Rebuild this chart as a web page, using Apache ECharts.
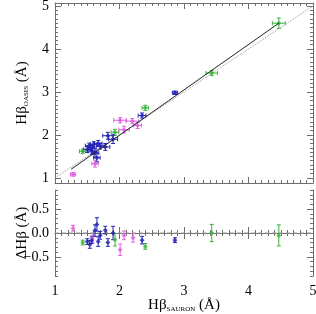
<!DOCTYPE html>
<html><head><meta charset="utf-8">
<script src="https://cdn.jsdelivr.net/npm/echarts@6/dist/echarts.min.js"></script>
<style>html,body{margin:0;padding:0;background:#fff}#c{width:316px;height:314px}</style>
</head><body><div id="c"></div>
<script>
// ---- data ----
// top panel: [x (SAURON), y (OASIS), xErr, yErr]
const topBlue = [
  [1.50,1.66,0.06,0.07],[1.53,1.75,0.06,0.06],[1.56,1.70,0.05,0.06],[1.58,1.62,0.07,0.08],
  [1.60,1.78,0.05,0.06],[1.62,1.58,0.06,0.10],[1.65,1.47,0.05,0.10],[1.67,1.80,0.06,0.07],
  [1.70,1.74,0.06,0.07],[1.78,1.72,0.07,0.08],[1.82,1.98,0.08,0.08],[1.90,1.90,0.07,0.10],
  [2.35,2.45,0.06,0.06],[2.86,2.98,0.04,0.04]
];
const topMagenta = [
  [1.28,1.08,0.04,0.04],[1.62,1.33,0.05,0.08],[2.01,2.34,0.10,0.06],
  [2.07,2.12,0.08,0.08],[2.20,2.32,0.10,0.06],[2.28,2.22,0.06,0.07]
];
const topGreen = [
  [1.43,1.62,0.05,0.05],[1.93,2.06,0.06,0.07],[2.40,2.63,0.05,0.06],
  [3.43,3.44,0.09,0.06],[4.47,4.60,0.10,0.12]
];
// bottom panel: [x, deltaHbeta, err]
const botBlue = [
  [1.50,-0.18,0.06],[1.54,-0.24,0.08],[1.57,-0.15,0.07],[1.62,0.05,0.12],[1.65,0.18,0.14],
  [1.67,-0.18,0.10],[1.70,-0.05,0.08],[1.78,0.06,0.08],[1.82,-0.20,0.08],[1.90,0.00,0.14],
  [2.35,-0.15,0.08],[2.86,-0.15,0.05]
];
const botMagenta = [[1.28,0.10,0.06],[1.58,-0.12,0.07],[2.01,-0.35,0.12],[2.07,-0.05,0.09],[2.21,-0.10,0.09]];
const botGreen = [[1.43,-0.20,0.05],[1.93,-0.14,0.13],[2.40,-0.28,0.06],[3.43,0.00,0.18],[4.47,-0.05,0.22]];
// lines
const fitLine = [[1.25,1.20],[4.47,4.60]];
const oneToOne = [[0.9,0.9],[5.1,5.1]];
const zeroLine = [[1,0],[5,0]];
// ticks
const xTicks = [1,2,3,4,5];
const topYTicks = [1,2,3,4,5];
const botYTicks = [-0.5,0.0,0.5];

const COL = {blue:'#2323b4', magenta:'#e060e0', green:'#3cb43c'};
const FONT = 'Liberation Serif';
const AX = '#6e6e6e';

function range(a,b,s){const r=[];for(let v=a;v<=b+1e-9;v+=s){r.push(+v.toFixed(3));}return r;}
const topYMinor = range(1.0,5.0,0.1);
const botYMinor = range(-0.9,0.9,0.1);

function xAxes(gridIndex, showLabels){
  const base = {type:'value', gridIndex, min:1, max:5, interval:1,
    axisLine:{show:true,lineStyle:{color:AX,width:1}},
    axisTick:{show:true,inside:true,length:6,lineStyle:{color:AX}},
    minorTick:{show:true,splitNumber:10,length:3,lineStyle:{color:AX}},
    splitLine:{show:false}, minorSplitLine:{show:false}};
  return [
    Object.assign({}, base, {position:'bottom', axisLabel:{show:showLabels, margin:8, color:'#000', fontFamily:FONT, fontSize:14,
      alignMinLabel:'center', alignMaxLabel:'center', hideOverlap:false, formatter: v => String(v)}}),
    Object.assign({}, base, {position:'top', axisLabel:{show:false}})
  ];
}
function yAxes(gridIndex, min, max, major, minor, fmt, name, gap){
  const mk = (pos, vals, len, label, line) => ({type:'value', gridIndex, min, max, position:pos,
    axisLine:{show:line,lineStyle:{color:AX,width:1}},
    axisTick:{show:true,inside:true,length:len,customValues:vals,lineStyle:{color:AX}},
    axisLabel: label ? {show:true,customValues:vals,margin:6,color:'#000',fontFamily:FONT,fontSize:14,
      verticalAlignMinLabel:'middle', verticalAlignMaxLabel:'middle', formatter:fmt} : {show:false},
    splitLine:{show:false}});
  const left = mk('left', major, 6, true, true);
  left.name = name; left.nameLocation='middle'; left.nameGap=gap; left.nameRotate=90; left.nameMoveOverlap=false;
  left.nameTextStyle = {color:'#000', fontFamily:FONT, fontSize:15,
    rich:{s:{fontSize:7, fontFamily:FONT, color:'#000', padding:[9,0,0,0]}, n:{fontSize:15,fontFamily:FONT,color:'#000'}}};
  return [left, mk('left', minor, 3, false, false), mk('right', major, 6, false, true), mk('right', minor, 3, false, false)];
}

function errTop(color){
  return function(params, api){
    const x=api.value(0), y=api.value(1), xe=api.value(2), ye=api.value(3);
    const l=api.coord([x-xe,y]), r=api.coord([x+xe,y]), t=api.coord([x,y+ye]), b=api.coord([x,y-ye]);
    const st={stroke:color,lineWidth:1}; const c=2;
    const ln=(x1,y1,x2,y2)=>({type:'line',shape:{x1,y1,x2,y2},style:st});
    return {type:'group',children:[
      ln(l[0],l[1],r[0],r[1]), ln(b[0],b[1],t[0],t[1]),
      ln(l[0],l[1]-c,l[0],l[1]+c), ln(r[0],r[1]-c,r[0],r[1]+c),
      ln(t[0]-c,t[1],t[0]+c,t[1]), ln(b[0]-c,b[1],b[0]+c,b[1])
    ]};
  };
}
function errBot(color){
  return function(params, api){
    const x=api.value(0), y=api.value(1), e=api.value(2);
    const t=api.coord([x,y+e]), b=api.coord([x,y-e]);
    const st={stroke:color,lineWidth:1}; const c=2;
    const ln=(x1,y1,x2,y2)=>({type:'line',shape:{x1,y1,x2,y2},style:st});
    return {type:'group',children:[ ln(b[0],b[1],t[0],t[1]), ln(t[0]-c,t[1],t[0]+c,t[1]), ln(b[0]-c,b[1],b[0]+c,b[1]) ]};
  };
}
function topSeries(data,color){
  return [
    {type:'custom', xAxisIndex:0, yAxisIndex:0, data, renderItem:errTop(color), z:3, silent:true},
    {type:'scatter', xAxisIndex:0, yAxisIndex:0, data:data.map(d=>[d[0],d[1]]), symbol:'diamond', symbolSize:5, itemStyle:{color}, z:4, silent:true}
  ];
}
function botSeries(data,color){
  return [
    {type:'custom', xAxisIndex:2, yAxisIndex:4, data, renderItem:errBot(color), z:3, silent:true},
    {type:'scatter', xAxisIndex:2, yAxisIndex:4, data:data.map(d=>[d[0],d[1]]), symbol:'diamond', symbolSize:5, itemStyle:{color}, z:4, silent:true}
  ];
}

const chart = echarts.init(document.getElementById('c'), null, {renderer:'canvas'});
const fmtTop = v => String(Math.round(v));
const fmtBot = v => (v<0?'\u2212':'') + Math.abs(v).toFixed(1);
chart.setOption({
  animation:false,
  backgroundColor:'#fff',
  grid:[
    {left:55, top:3, width:258, height:180, containLabel:false, outerBoundsMode:'none'},
    {left:55, top:190, width:258, height:86, containLabel:false, outerBoundsMode:'none'}
  ],
  xAxis:[...xAxes(0,false), ...xAxes(1,true).map((a,i)=> i===0 ? Object.assign(a,{
      name:'{n|H\u03b2}{s|SAURON}{n| (\u00c5)}', nameLocation:'middle', nameGap:21, nameMoveOverlap:false,
      nameTextStyle:{color:'#000',fontFamily:FONT,fontSize:15,
        rich:{s:{fontSize:7,fontFamily:FONT,color:'#000',padding:[9,0,0,0]}, n:{fontSize:15,fontFamily:FONT,color:'#000'}}}}) : a)],
  yAxis:[
    ...yAxes(0, 0.88, 5.07, topYTicks, topYMinor, fmtTop, '{n|H\u03b2}{s|OASIS}{n| (\u00c5)}', 25),
    ...yAxes(1, -0.9, 0.9, botYTicks, botYMinor, fmtBot, '{n|\u0394H\u03b2 (\u00c5)}', 25)
  ],
  series:[
    {type:'line', xAxisIndex:0, yAxisIndex:0, data:oneToOne, symbol:'none', lineStyle:{color:'#9a9a9a',width:1,type:'dotted'}, z:2, silent:true, clip:true},
    {type:'line', xAxisIndex:0, yAxisIndex:0, data:fitLine, symbol:'none', lineStyle:{color:'#222',width:1}, z:5, silent:true},
    {type:'line', xAxisIndex:2, yAxisIndex:4, data:zeroLine, symbol:'none', lineStyle:{color:'#9a9a9a',width:1,type:[4,3]}, z:2, silent:true},
    ...topSeries(topGreen,COL.green), ...topSeries(topMagenta,COL.magenta), ...topSeries(topBlue,COL.blue),
    ...botSeries(botGreen,COL.green), ...botSeries(botMagenta,COL.magenta), ...botSeries(botBlue,COL.blue)
  ]
});
</script></body></html>
